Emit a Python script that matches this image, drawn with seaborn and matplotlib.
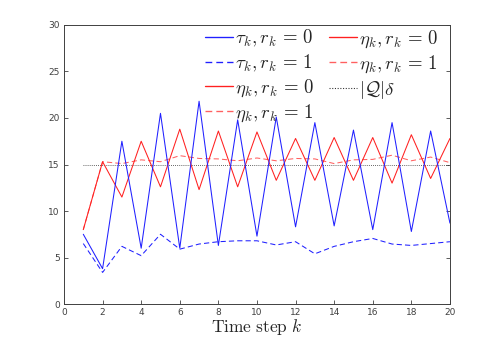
import numpy as np
import pandas as pd
import seaborn as sns
import matplotlib
matplotlib.use("Agg")
import matplotlib.pyplot as plt
from matplotlib.lines import Line2D

# ---- data ----
steps = list(range(1, 21))
tau_r0 = [7.5, 3.8, 17.5, 6.0, 20.5, 6.0, 21.8, 6.3, 19.8, 7.3,
          20.1, 8.3, 19.5, 8.4, 18.7, 8.0, 19.5, 7.8, 18.6, 8.7]
tau_r1 = [6.5, 3.4, 6.2, 5.2, 7.5, 5.9, 6.45, 6.7, 6.8, 6.8,
          6.35, 6.7, 5.4, 6.2, 6.7, 7.05, 6.45, 6.3, 6.5, 6.7]
eta_r0 = [8.0, 15.3, 11.5, 17.5, 12.6, 18.8, 12.3, 18.6, 12.6, 18.5,
          13.3, 17.8, 13.3, 17.9, 13.3, 17.9, 13.0, 18.2, 13.5, 17.8]
eta_r1 = [8.0, 15.3, 15.1, 15.5, 15.3, 15.95, 15.65, 15.6, 15.4, 15.7,
          15.4, 15.65, 15.6, 15.1, 15.5, 15.55, 16.0, 15.4, 15.8, 15.2]
q_delta = 15.0
x_ticks = list(range(0, 21, 2))
y_ticks = list(range(0, 31, 5))

sns.set_theme(style="white")
plt.rcParams['mathtext.fontset'] = 'cm'
plt.rcParams['font.family'] = ['DejaVu Sans']

fig = plt.figure(figsize=(4.98, 3.42), dpi=100)
ax = fig.add_axes([0.1285, 0.111, 0.775, 0.816])

df = pd.DataFrame({'k': steps, 'tau0': tau_r0, 'tau1': tau_r1,
                   'eta0': eta_r0, 'eta1': eta_r1,
                   'q': [q_delta] * len(steps)})

lw = 0.75
styles = {
    'q': dict(color='#333333', linewidth=0.6, linestyle=(0, (1, 1.5))),
    'eta1': dict(color='#ff6060', linewidth=lw, linestyle=(0, (5, 3))),
    'eta0': dict(color='#ff2020', linewidth=lw, linestyle='-'),
    'tau1': dict(color='#2020ff', linewidth=lw, linestyle=(0, (5, 3))),
    'tau0': dict(color='#2020ff', linewidth=lw, linestyle='-'),
}
for key in ['q', 'eta1', 'eta0', 'tau1', 'tau0']:
    sns.lineplot(data=df, x='k', y=key, ax=ax, legend=False, **styles[key])

order = ['tau0', 'tau1', 'eta0', 'eta1', 'eta0', 'eta1', 'q']
handles = []
for k in order:
    st = dict(styles[k])
    st['linewidth'] = st['linewidth'] * 1.3
    handles.append(Line2D([0, 1], [0, 0], **st))
labels = [r'$\tau_k, r_k \,=\, 0$', r'$\tau_k, r_k \,=\, 1$',
          r'$\eta_k, r_k \,=\, 0$', r'$\eta_k, r_k \,=\, 1$',
          r'$\eta_k, r_k \,=\, 0$', r'$\eta_k, r_k \,=\, 1$',
          r'$|\mathcal{Q}|\delta$']
ax.legend(handles, labels, ncol=2, loc='upper right',
          bbox_to_anchor=(1.0, 1.03), frameon=False, fontsize=13.5,
          handlelength=1.5, handletextpad=0.1, labelspacing=0.2,
          columnspacing=0.8, borderaxespad=0.2)

ax.set_xlim(0, 20)
ax.set_ylim(0, 30)
ax.set_xticks(x_ticks)
ax.set_yticks(y_ticks)
ax.set_xlabel(r'$\mathrm{Time\ step}\ k$', fontsize=12.5, labelpad=0)
ax.set_ylabel('')
ax.tick_params(direction='in', length=3, width=0.6, labelsize=6.5,
               colors='#404040', top=False, right=True, left=True,
               bottom=True, pad=3)
for sp in ax.spines.values():
    sp.set_visible(True)
    sp.set_color('#404040')
    sp.set_linewidth(0.7)

fig.savefig('out.png', dpi=100)
